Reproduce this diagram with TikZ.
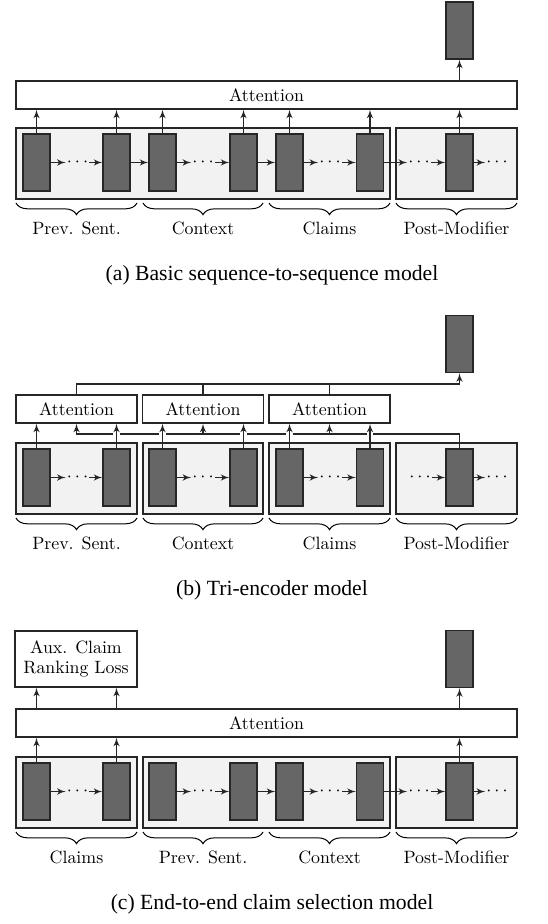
\documentclass[tikz,border=0pt]{standalone}
\usepackage{fontspec}
\newfontfamily\capfont{Liberation Serif}
\usepackage{tikz}
\usetikzlibrary{arrows,decorations.pathreplacing}

\begin{document}
\begin{tikzpicture}[x=0.6pt,y=-0.6pt,font=\fontsize{10.7}{12.5}\selectfont,
  cell/.style={draw=black!85,fill=black!60,thick,minimum width=16.2pt,minimum height=34.2pt,inner sep=0pt},
  attn/.style={draw=black!85,fill=white,thick,minimum height=16.8pt,inner sep=0pt},
  grp/.style={draw=black!85,fill=black!5,thick},
  dots/.style={inner sep=0.5pt},
  arr/.style={-latex',thick,draw=black!85},
  arrh/.style={arr,preaction={draw=white,line width=4pt,-,shorten <=6pt,shorten >=2pt}},
  ln/.style={thick,draw=black!85},
  brc/.style={semithick,decorate,decoration={brace,mirror,amplitude=7pt}},
  capt/.style={font=\capfont\fontsize{13}{15}\selectfont}]
  \useasboundingbox (0,0) rectangle (548,924);

  % (a) basic seq2seq
  \draw [grp] (16,128) rectangle (390,199);
  \draw [grp] (396,128) rectangle (517,199);
  \foreach \n/\x in {1/36.5,2/116.5,3/162.5,4/243.5,5/289.5,6/370,7/459.5}
    \node [cell] (a\n) at (\x,162.5) {};
  \node [cell] (aout) at (459.5,30.5) {};
  \node [attn,minimum width=300.6pt] (aatt) at (266.5,95) {Attention};
  \node [dots] (ad1) at (77.5,162.5) {$\cdots$};
  \node [dots] (ad2) at (203,162.5) {$\cdots$};
  \node [dots] (ad3) at (330,162.5) {$\cdots$};
  \node [dots] (ad4) at (419,162.5) {$\cdots$};
  \node [dots] (ad5) at (497,162.5) {$\cdots$};
  \draw [arr] (a1) -- (ad1); \draw [arr] (ad1) -- (a2); \draw [arr] (a2) -- (a3);
  \draw [arr] (a3) -- (ad2); \draw [arr] (ad2) -- (a4); \draw [arr] (a4) -- (a5);
  \draw [arr] (a5) -- (ad3); \draw [arr] (ad3) -- (a6); \draw [arr] (a6) -- (ad4);
  \draw [arr] (ad4) -- (a7); \draw [arr] (a7) -- (ad5);
  \foreach \n in {1,...,7}
    \draw [arr] (a\n.north) -- (a\n.north |- aatt.south);
  \draw [arr] (aatt.north -| aout) -- (aout.south);
  \draw [brc] (16,203) -- node [below=8pt] (al1) {Prev. Sent.} (137,203);
  \draw [brc] (143,203) -- node [below=8pt] (al2) {Context} (263,203);
  \draw [brc] (269,203) -- node [below=8pt] (al3) {Claims} (390,203);
  \draw [brc] (396,203) -- node [below=8pt] (al4) {Post-Modifier} (517,203);
  \node [capt] (acap) at (272,275) {(a) Basic sequence-to-sequence model};

  % (b) tri-encoder
  \draw [grp] (16,443) rectangle (137,514);
  \draw [grp] (143,443) rectangle (263,514);
  \draw [grp] (269,443) rectangle (390,514);
  \draw [grp] (396,443) rectangle (517,514);
  \foreach \n/\x in {1/36.5,2/116.5,3/162.5,4/243.5,5/289.5,6/370,7/459.5}
    \node [cell] (b\n) at (\x,477.5) {};
  \node [cell] (bout) at (459.5,344) {};
  \node [attn,minimum width=72.6pt] (batt1) at (76.5,409) {Attention};
  \node [attn,minimum width=72.6pt] (batt2) at (203,409) {Attention};
  \node [attn,minimum width=72.6pt] (batt3) at (329.5,409) {Attention};
  \coordinate (bbus) at (0,384);
  \coordinate (blow) at (0,434);
  \node [dots] (bd1) at (77.5,477.5) {$\cdots$};
  \node [dots] (bd2) at (203,477.5) {$\cdots$};
  \node [dots] (bd3) at (330,477.5) {$\cdots$};
  \node [dots] (bd4) at (420,477.5) {$\cdots$};
  \node [dots] (bd5) at (497,477.5) {$\cdots$};
  \draw [arr] (b1) -- (bd1); \draw [arr] (bd1) -- (b2);
  \draw [arr] (b3) -- (bd2); \draw [arr] (bd2) -- (b4);
  \draw [arr] (b5) -- (bd3); \draw [arr] (bd3) -- (b6);
  \draw [arr] (bd4) -- (b7); \draw [arr] (b7) -- (bd5);
  \draw [arr] (batt1.north) -- (batt1.north |- bbus) -| (bout.south);
  \draw [ln] (batt2.north) -- (batt2.north |- bbus);
  \draw [ln] (batt3.north) -- (batt3.north |- bbus);
  \draw [arr] (b7.north) |- (batt1.south |- blow) -- (batt1.south);
  \draw [arr] (batt2.south |- blow) -- (batt2.south);
  \draw [arr] (batt3.south |- blow) -- (batt3.south);
  \draw [arrh] (b1.north) -- (b1.north |- batt1.south);
  \draw [arrh] (b2.north) -- (b2.north |- batt1.south);
  \draw [arrh] (b3.north) -- (b3.north |- batt2.south);
  \draw [arrh] (b4.north) -- (b4.north |- batt2.south);
  \draw [arrh] (b5.north) -- (b5.north |- batt3.south);
  \draw [arrh] (b6.north) -- (b6.north |- batt3.south);
  \draw [brc] (16,518) -- node [below=8pt] (bl1) {Prev. Sent.} (137,518);
  \draw [brc] (143,518) -- node [below=8pt] (bl2) {Context} (263,518);
  \draw [brc] (269,518) -- node [below=8pt] (bl3) {Claims} (390,518);
  \draw [brc] (396,518) -- node [below=8pt] (bl4) {Post-Modifier} (517,518);
  \node [capt] (bcap) at (272,590) {(b) Tri-encoder model};

  % (c) end-to-end
  \draw [grp] (16,757) rectangle (137,828);
  \draw [grp] (143,757) rectangle (390,828);
  \draw [grp] (396,757) rectangle (517,828);
  \foreach \n/\x in {1/36.5,2/116.5,3/162.5,4/243.5,5/289.5,6/370,7/459.5}
    \node [cell] (c\n) at (\x,791.5) {};
  \node [cell] (cout) at (459.5,659) {};
  \node [attn,minimum width=73.2pt,minimum height=33.6pt,align=center] (caux) at (76,659) {Aux. Claim\\Ranking Loss};
  \node [attn,minimum width=300.6pt] (catt) at (266.5,723) {Attention};
  \node [dots] (cd1) at (77.5,791.5) {$\cdots$};
  \node [dots] (cd2) at (203,791.5) {$\cdots$};
  \node [dots] (cd3) at (330,791.5) {$\cdots$};
  \node [dots] (cd4) at (419,791.5) {$\cdots$};
  \node [dots] (cd5) at (497,791.5) {$\cdots$};
  \draw [arr] (c1) -- (cd1); \draw [arr] (cd1) -- (c2);
  \draw [arr] (c3) -- (cd2); \draw [arr] (cd2) -- (c4); \draw [arr] (c4) -- (c5);
  \draw [arr] (c5) -- (cd3); \draw [arr] (cd3) -- (c6); \draw [arr] (c6) -- (cd4);
  \draw [arr] (cd4) -- (c7); \draw [arr] (c7) -- (cd5);
  \foreach \n in {1,2,7}
    \draw [arr] (c\n.north) -- (c\n.north |- catt.south);
  \draw [arr] (catt.north -| c1) -- (caux.south -| c1);
  \draw [arr] (catt.north -| c2) -- (caux.south -| c2);
  \draw [arr] (catt.north -| cout) -- (cout.south);
  \draw [brc] (16,832) -- node [below=8pt] (cl1) {Claims} (137,832);
  \draw [brc] (143,832) -- node [below=8pt] (cl2) {Prev. Sent.} (263,832);
  \draw [brc] (269,832) -- node [below=8pt] (cl3) {Context} (390,832);
  \draw [brc] (396,832) -- node [below=8pt] (cl4) {Post-Modifier} (517,832);
  \node [capt] (ccap) at (272,904) {(c) End-to-end claim selection model};
\end{tikzpicture}
\end{document}
